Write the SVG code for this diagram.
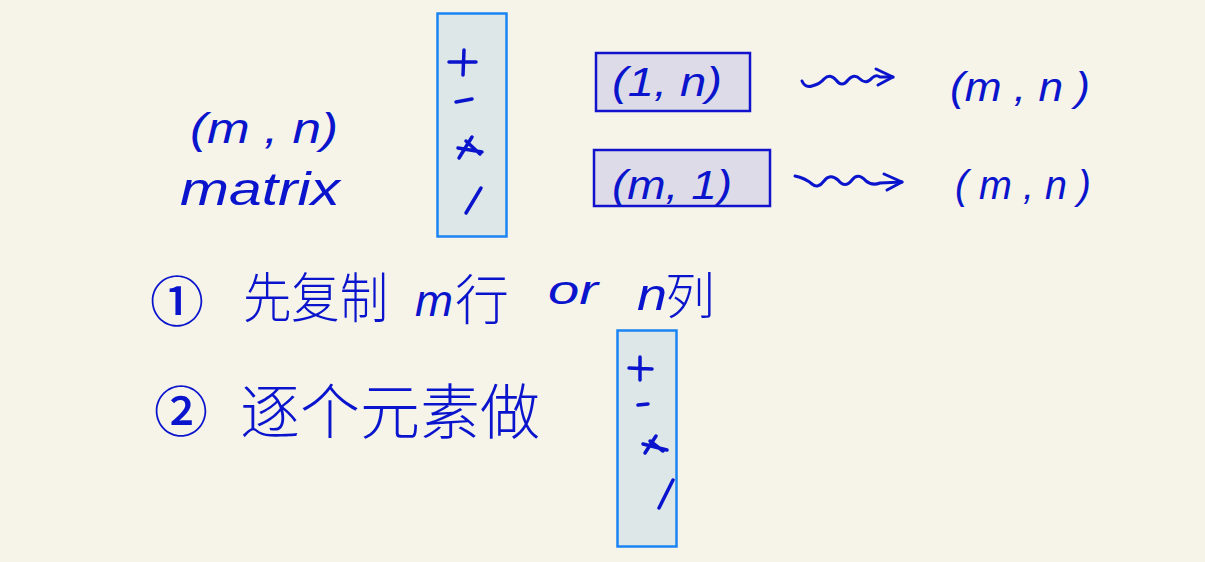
<svg xmlns="http://www.w3.org/2000/svg" width="1205" height="562" viewBox="0 0 1205 562">
<style>
.bg{fill:#f6f4e9}
.opbox{fill:#dee7e8;stroke:#1a84f5;stroke-width:2.5}
.shbox{fill:#dddbe7;stroke:#1212cc;stroke-width:2.5}
.t{fill:#0a14cc;font-family:"Liberation Sans","Noto Sans CJK SC",sans-serif;font-style:italic}
.cjk{fill:#0a14cc;font-family:"Noto Sans CJK SC",sans-serif;font-weight:300}
.num{fill:#0a14cc;font-family:"Noto Sans CJK SC",sans-serif;font-weight:500}
.op{fill:none;stroke:#0a14cc;stroke-width:3.5;stroke-linecap:round}
.wave{fill:none;stroke:#0a14cc;stroke-width:3;stroke-linecap:round;stroke-linejoin:round}
</style>
<rect class="bg" x="0" y="0" width="1205" height="562"/>
<g id="matrix-label">
<text class="t" x="190" y="143" font-size="42" textLength="148" lengthAdjust="spacingAndGlyphs">(m , n)</text>
<text class="t" x="180" y="205" font-size="46" textLength="160" lengthAdjust="spacingAndGlyphs">matrix</text>
</g>
<g id="ops-box-1">
<rect class="opbox" x="437.5" y="13.5" width="69" height="223"/>
<path class="op" d="M449,62 L476,62 M464,50 L463,75"/>
<path class="op" d="M456,102 L472,99"/>
<path class="op" d="M459,158 L472,137 M458,148 L482,152 M466,141 L480,154"/>
<path class="op" d="M466,213 L481,188"/>
</g>
<g id="box-1n">
<rect class="shbox" x="596" y="53" width="154" height="58"/>
<text class="t" x="612" y="96" font-size="40" textLength="110" lengthAdjust="spacingAndGlyphs">(1, n)</text>
</g>
<g id="box-m1">
<rect class="shbox" x="594" y="150" width="176" height="56"/>
<text class="t" x="612" y="199" font-size="40" textLength="120" lengthAdjust="spacingAndGlyphs">(m, 1)</text>
</g>
<g id="connectors">
<path class="wave" d="M802,81 Q805,88 812,86 Q820,84 824,79 Q830,73 836,80 Q842,88 848,80 Q854,73 860,79 Q866,85 872,78 Q876,74 880,77 L893,77"/>
<path class="wave" d="M876,69 L893,77 L878,85"/>
<path class="wave" d="M795,176 Q805,178 812,184 Q818,189 824,181 Q830,173 838,180 Q845,189 852,180 Q858,172 866,181 Q872,186 880,183 L902,182"/>
<path class="wave" d="M884,174 L902,182 L887,190"/>
</g>
<g id="result-1">
<text class="t" x="950" y="101" font-size="40" textLength="140" lengthAdjust="spacingAndGlyphs">(m , n )</text>
</g>
<g id="result-2">
<text class="t" x="955" y="199" font-size="40" textLength="136" lengthAdjust="spacingAndGlyphs">( m , n )</text>
</g>
<g id="step-1">
<text class="num" x="150" y="322" font-size="54">①</text>
<text class="cjk" x="243" y="318" font-size="54" textLength="145" lengthAdjust="spacingAndGlyphs">先复制</text>
<text class="t" x="415" y="316" font-size="44" textLength="38" lengthAdjust="spacingAndGlyphs">m</text>
<text class="cjk" x="455" y="320" font-size="54">行</text>
<text class="t" x="548" y="304" font-size="40" textLength="50" lengthAdjust="spacingAndGlyphs">or</text>
<text class="t" x="637" y="310" font-size="44" textLength="30" lengthAdjust="spacingAndGlyphs">n</text>
<text class="cjk" x="665" y="314" font-size="50">列</text>
</g>
<g id="step-2">
<text class="num" x="154" y="432" font-size="54">②</text>
<text class="cjk" x="240" y="434" font-size="60" textLength="300" lengthAdjust="spacingAndGlyphs">逐个元素做</text>
</g>
<g id="ops-box-2">
<rect class="opbox" x="617.5" y="330.5" width="59" height="216"/>
<path class="op" d="M629,368 L652,369 M640,357 L640,380"/>
<path class="op" d="M638,405 L648,404"/>
<path class="op" d="M645,453 L656,436 M643,444 L667,450 M650,441 L663,451"/>
<path class="op" d="M659,508 L673,480"/>
</g>
</svg>
